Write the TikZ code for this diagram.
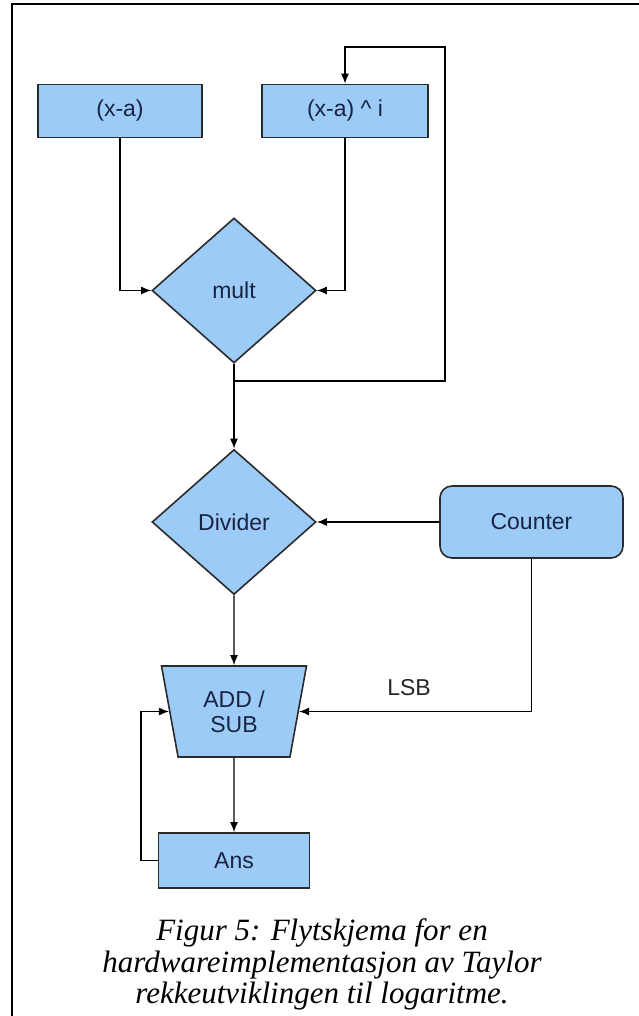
\documentclass[tikz,border=0pt]{standalone}
\usepackage{fontspec}
\setmainfont{Liberation Serif}
\newfontfamily\diagfont{Liberation Sans}
\usetikzlibrary{shapes.geometric,arrows.meta}

\definecolor{boxfill}{HTML}{9CCBF8}
\definecolor{boxline}{HTML}{2B2B2B}
\definecolor{boxtext}{HTML}{1A2440}

\tikzset{
  labelfont/.style={font=\diagfont\fontsize{23}{25}\selectfont},
  block/.style={draw=boxline, line width=1.6pt, fill=boxfill, inner sep=0pt,
    labelfont, text=boxtext, align=center},
  rectblock/.style={block, rectangle},
  decision/.style={block, diamond, minimum width=164pt, minimum height=145pt},
  wire/.style={draw=black, line width=1.4pt},
  flow/.style={wire, -{Latex[length=10pt,width=8pt]}},
}

\begin{document}
\begin{tikzpicture}[x=1pt,y=-1pt]
  % page area and partial frame (top and left rules)
  \useasboundingbox (0,0) rectangle (639,1016);
  \draw[line width=2pt] (12,1016) -- (12,4) -- (639,4);

  % blocks
  \node[rectblock, minimum width=164pt, minimum height=53pt] (xa) at (120,111) {(x-a)};
  \node[rectblock, minimum width=166pt, minimum height=53pt] (xai) at (345,111) {(x-a) \textasciicircum{} i};
  \node[decision] (mult) at (234,290.5) {mult};
  \node[decision] (divider) at (234,522) {Divider};
  \node[rectblock, rounded corners=12pt, minimum width=183pt, minimum height=72pt] (counter) at (531.5,522) {Counter};
  \node[block, trapezium, trapezium angle=68.4, shape border rotate=180,
        trapezium stretches body, minimum width=145pt, minimum height=91pt] (addsub) at (234,711.5) {ADD /\\SUB};
  \node[rectblock, minimum width=151pt, minimum height=55pt] (ans) at (234,860.5) {Ans};

  % connectors
  \draw[flow] (xa.south) |- (mult.west);
  \draw[flow] (xai.south) |- (mult.east);
  \draw[flow] (mult.south) -- (divider.north);
  \coordinate (split) at (234,381);
  \coordinate (loopcorner) at (445,47);
  \draw[flow] (split) -| (loopcorner) -| (xai.north);
  \draw[flow] (counter.west) -- (divider.east);
  \draw[flow] (divider.south) -- (addsub.north);
  \draw[flow] (counter.south) |- (addsub.east);
  \node[labelfont, text=black!85] (lsb) at (409,688) {LSB};
  \draw[flow] (addsub.south) -- (ans.north);
  \coordinate (backleft) at (141,860.5);
  \draw[flow] (ans.west) -- (backleft) |- (addsub.west);

  % caption
  \node[font=\itshape\fontsize{31}{31.5}\selectfont, align=center] (caption) at (322,964.5)
    {Figur 5: Flytskjema for en\\hardwareimplementasjon av Taylor\\rekkeutviklingen til logaritme.};
\end{tikzpicture}
\end{document}
